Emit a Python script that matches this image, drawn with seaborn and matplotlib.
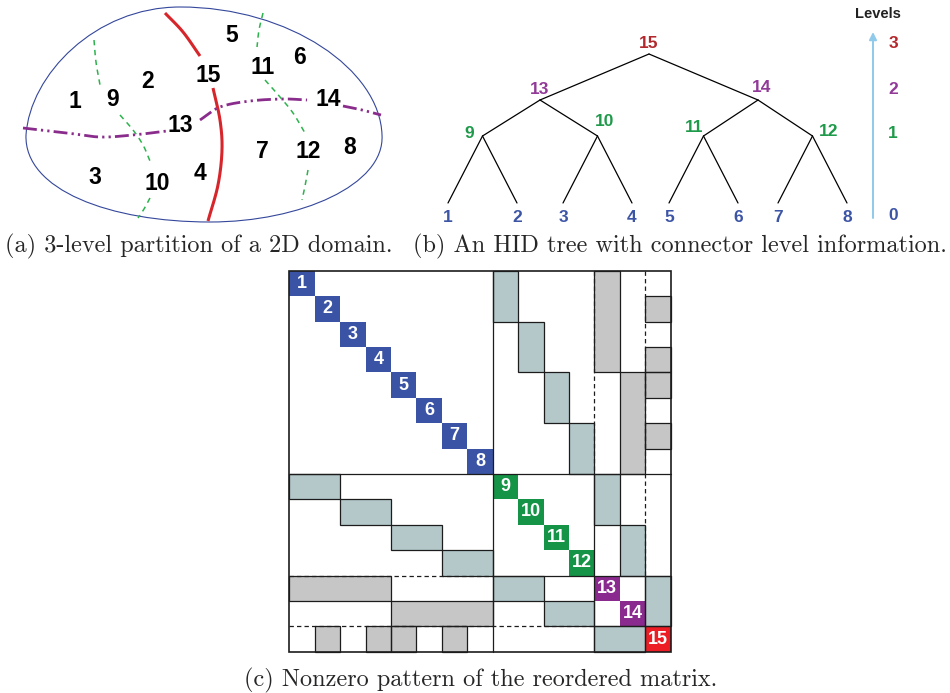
import numpy as np
import matplotlib
matplotlib.use("Agg")
import matplotlib.pyplot as plt
import seaborn as sns
from matplotlib.colors import ListedColormap
from matplotlib.patches import Rectangle, PathPatch
from matplotlib.path import Path

# ---------------- data ----------------
# HID tree: separators and the two subdomains / separators they split
leaves = [1, 2, 3, 4, 5, 6, 7, 8]
children = {9: (1, 2), 10: (3, 4), 11: (5, 6), 12: (7, 8),
            13: (9, 10), 14: (11, 12), 15: (13, 14)}
node_level = {1: 0, 2: 0, 3: 0, 4: 0, 5: 0, 6: 0, 7: 0, 8: 0,
              9: 1, 10: 1, 11: 1, 12: 1, 13: 2, 14: 2, 15: 3}
levels = [0, 1, 2, 3]

# nonzero off-diagonal blocks of the reordered matrix (column node -> row runs)
coupling = {9: [(1, 2)], 10: [(3, 4)], 11: [(5, 6)], 12: [(7, 8)],
            13: [(9, 10)], 14: [(11, 12)], 15: [(13, 14)]}
fill_in = {13: [(1, 4)], 14: [(5, 8)], 15: [(2, 2), (4, 4), (5, 5), (7, 7)]}

captions = ["(a) 3-level partition of a 2D domain.",
            "(b) An HID tree with connector level information.",
            "(c) Nonzero pattern of the reordered matrix."]

# ---------------- style ----------------
sns.set_theme(style="white")
plt.rcParams["font.family"] = ["Liberation Sans", "DejaVu Sans"]

level_color = {0: "#3a53a4", 1: "#159447", 2: "#8b2a8e", 3: "#ec1d25"}
text_color = {0: "#3d55a5", 1: "#1f9a4a", 2: "#913a98", 3: "#b3282d"}
teal, gray = "#b4c8c9", "#c6c6c6"
SANS = "Liberation Sans"
SERIF = "cmr10"

W, H = 950, 693
fig = plt.figure(figsize=(W / 100, H / 100), dpi=100)
ax = fig.add_axes([0, 0, 1, 1])
ax.set_xlim(0, W)
ax.set_ylim(H, 0)
ax.axis("off")


def smooth(pts, n=40):
    """Catmull-Rom curve through the given points."""
    pts = np.asarray(pts, float)
    P = np.vstack([2 * pts[0] - pts[1], pts, 2 * pts[-1] - pts[-2]])
    t = np.linspace(0, 1, n)[:, None]
    out = []
    for i in range(1, len(P) - 2):
        p0, p1, p2, p3 = P[i - 1], P[i], P[i + 1], P[i + 2]
        seg = 0.5 * (2 * p1 + (-p0 + p2) * t + (2 * p0 - 5 * p1 + 4 * p2 - p3) * t ** 2
                     + (-p0 + 3 * p1 - 3 * p2 + p3) * t ** 3)
        out.append(seg if i == 1 else seg[1:])
    return np.vstack(out)


# ---------------- (a) partitioned domain ----------------
outline = [(26, 135), (30, 75), (95, 7), (180, 7),
           (290, 7), (380, 70), (382, 135),
           (385, 185), (300, 222), (210, 222),
           (110, 222), (24, 190), (26, 135)]
codes = [Path.MOVETO] + [Path.CURVE4] * 12
ax.add_patch(PathPatch(Path(outline, codes), fill=False, ec="#34479b", lw=0.8))

red_parts = [[(165, 13), (183, 32), (200, 56)],
             [(213, 88), (220, 120), (222, 150), (218, 185), (208, 221)]]
purple_parts = [[(23, 128), (67, 133), (100, 137), (133, 135), (167, 131)],
                [(200, 120), (220, 107), (250, 101), (283, 99), (307, 100)],
                [(343, 106), (362, 110), (381, 115)]]
green_parts = [[(94, 40), (96, 62), (100, 85)],
               [(120, 115), (133, 130), (143, 145), (150, 161)],
               [(150, 198), (144, 209), (138, 218)],
               [(263, 13), (259, 30), (257, 47)],
               [(265, 80), (280, 97), (293, 113), (305, 133)],
               [(308, 170), (305, 186), (302, 200)]]
for p in red_parts:
    c = smooth(p)
    ax.plot(c[:, 0], c[:, 1], color="#d7262b", lw=2.2, solid_capstyle="butt")
for p in purple_parts:
    c = smooth(p)
    ax.plot(c[:, 0], c[:, 1], color="#8a2c8c", lw=2.0,
            linestyle=(0, (5, 1.5, 0.8, 1.5, 0.8, 1.5)))
for p in green_parts:
    c = smooth(p)
    ax.plot(c[:, 0], c[:, 1], color="#2db34d", lw=1.1, linestyle=(0, (3.5, 3)))

region_labels = ["1", "2", "3", "4", "5", "6", "7", "8",
                 "9", "10", "11", "12", "13", "14", "15"]
region_x = [75, 148, 95, 200, 232, 300, 262, 350, 113, 157, 263, 308, 180, 328, 208]
region_y = [102, 81, 178, 173, 36, 58, 151, 147, 100, 183, 67, 152, 125, 99, 76]
for s, x, y in zip(region_labels, region_x, region_y):
    ax.text(x, y, s, ha="center", va="center", fontsize=16.5, fontweight="bold",
            family=SANS, color="black")

# ---------------- (b) HID tree ----------------
leaf_x = {1: 448, 2: 517, 3: 563, 4: 632, 5: 669, 6: 738, 7: 778, 8: 847}
level_y = {0: 203, 1: 136, 2: 100, 3: 54}
node_x = dict(leaf_x)
for p in sorted(children):
    a, b = children[p]
    node_x[p] = (node_x[a] + node_x[b]) / 2
for p, (a, b) in children.items():
    for c in (a, b):
        ax.plot([node_x[p], node_x[c]], [level_y[node_level[p]], level_y[node_level[c]]],
                color="black", lw=0.9)

label_off = {9: (-13, -2), 10: (7, -14), 11: (-9, -9), 12: (16, -4),
             13: (0, -11), 14: (4, -13), 15: (0, -11)}
for n, lev in node_level.items():
    if lev == 0:
        x, y = node_x[n], 217
    else:
        dx, dy = label_off[n]
        x, y = node_x[n] + dx, level_y[lev] + dy
    ax.text(x, y, str(n), ha="center", va="center", fontsize=12.5, fontweight="bold",
            family=SANS, color=text_color[lev])

ax.annotate("", xy=(873, 32), xytext=(873, 218),
            arrowprops=dict(arrowstyle="-|>", color="#8fcaea", lw=1.4,
                            mutation_scale=11, shrinkA=0, shrinkB=0))
ax.text(878, 14, "Levels", ha="center", va="center", fontsize=10.5,
        fontweight="bold", family=SANS, color="#222222")
level_label_y = {3: 43, 2: 90, 1: 134, 0: 215}
for lev in levels:
    ax.text(893, level_label_y[lev], str(lev), ha="center", va="center", fontsize=12.5,
            fontweight="bold", family=SANS, color=text_color[lev])

# ---------------- captions ----------------
ax.text(5, 246, captions[0], ha="left", va="center", fontsize=17.5, family=SERIF)
ax.text(413, 246, captions[1], ha="left", va="center", fontsize=17.5, family=SERIF)
ax.text(481, 680, captions[2], ha="center", va="center", fontsize=17.5, family=SERIF)

# ---------------- (c) nonzero pattern ----------------
N = len(node_level)
M = np.zeros((N, N), dtype=int)
for k, runs in coupling.items():
    for a, b in runs:
        M[a - 1:b, k - 1] = 1
        M[k - 1, a - 1:b] = 1
for k, runs in fill_in.items():
    for a, b in runs:
        M[a - 1:b, k - 1] = 2
        M[k - 1, a - 1:b] = 2
for n, lev in node_level.items():
    M[n - 1, n - 1] = 3 + lev
annot = np.full((N, N), "", dtype=object)
for n in node_level:
    annot[n - 1, n - 1] = str(n)

x0, x1, y0, y1 = 289.3, 670.7, 270.7, 651.7
axm = fig.add_axes([x0 / W, 1 - y1 / H, (x1 - x0) / W, (y1 - y0) / H])
cmap = ListedColormap(["white", teal, gray, level_color[0], level_color[1],
                       level_color[2], level_color[3]])
sns.heatmap(M, ax=axm, cmap=cmap, vmin=-0.5, vmax=6.5, cbar=False,
            xticklabels=False, yticklabels=False, annot=annot, fmt="",
            annot_kws=dict(color="white", fontsize=13, fontweight="bold", family=SANS))
axm.axis("off")

edge = "#1c1c1c"
for blocks in (coupling, fill_in):
    for k, runs in blocks.items():
        for a, b in runs:
            for xy, w, h in (((k - 1, a - 1), 1, b - a + 1), ((a - 1, k - 1), b - a + 1, 1)):
                axm.add_patch(Rectangle(xy, w, h, fill=False, ec=edge, lw=0.9,
                                        clip_on=False))

# separator boundaries: (index, start, end, style)
separator_lines = [(8, 0, 15, "-"), (12, 8, 15, "-"), (12, 0, 8, "--"),
                   (14, 12, 15, "-"), (14, 0, 12, "--")]
for b, s, e, st in separator_lines:
    ls = "-" if st == "-" else (0, (3.5, 2.5))
    axm.plot([b, b], [s, e], color=edge, lw=0.9, linestyle=ls, clip_on=False)
    axm.plot([s, e], [b, b], color=edge, lw=0.9, linestyle=ls, clip_on=False)
axm.add_patch(Rectangle((0, 0), N, N, fill=False, ec=edge, lw=1.2, clip_on=False))

fig.savefig("out.png", dpi=100)
